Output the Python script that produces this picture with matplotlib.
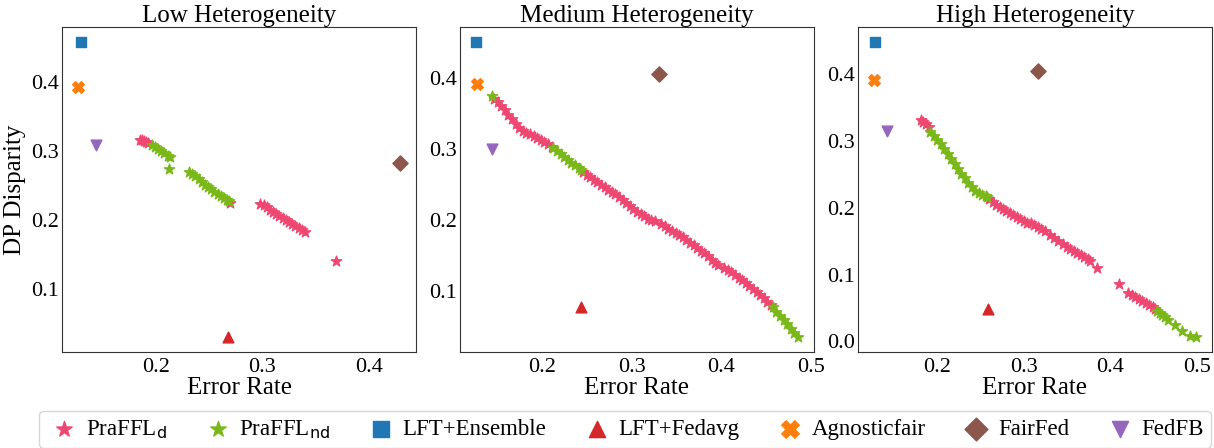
import matplotlib.pyplot as plt

plt.rcParams['font.family'] = ['Liberation Serif', 'DejaVu Sans']

titles = ["Low Heterogeneity", "Medium Heterogeneity", "High Heterogeneity"]
labels = [r"PraFFL$_\mathrm{d}$", r"PraFFL$_\mathrm{nd}$", "LFT+Ensemble",
          "LFT+Fedavg", "Agnosticfair", "FairFed", "FedFB"]

# PraFFL_d (pink stars) per panel
d_low_x = [0.185, 0.187, 0.189, 0.191, 0.193, 0.270,
           0.298, 0.301, 0.304, 0.307, 0.310, 0.313, 0.316, 0.319, 0.322, 0.325,
           0.328, 0.331, 0.334, 0.337, 0.340, 0.369]
d_low_y = [0.316, 0.315, 0.314, 0.313, 0.311, 0.225,
           0.223, 0.221, 0.218, 0.215, 0.212, 0.209, 0.206, 0.203, 0.200, 0.197,
           0.194, 0.191, 0.188, 0.185, 0.183, 0.140]

d_med_x = [0.147, 0.151, 0.155, 0.159, 0.163, 0.167, 0.171, 0.175, 0.179, 0.183,
           0.187, 0.191, 0.195, 0.199, 0.203, 0.207, 0.211,
           0.246, 0.250, 0.254, 0.258, 0.262, 0.266, 0.270, 0.274, 0.278, 0.282,
           0.286, 0.290, 0.294, 0.298, 0.302, 0.306, 0.310, 0.314, 0.318, 0.322, 0.326,
           0.333, 0.337, 0.341, 0.345, 0.349, 0.353, 0.357, 0.361, 0.365, 0.369,
           0.373, 0.377, 0.381, 0.385, 0.389, 0.393, 0.396,
           0.403, 0.407, 0.411, 0.415, 0.419, 0.423, 0.427, 0.431, 0.435, 0.439,
           0.443, 0.447, 0.451, 0.455]
d_med_y = [0.371, 0.366, 0.361, 0.355, 0.348, 0.342, 0.335, 0.329, 0.325, 0.323,
           0.321, 0.319, 0.316, 0.313, 0.310, 0.307, 0.303,
           0.267, 0.264, 0.261, 0.257, 0.253, 0.250, 0.246, 0.242, 0.239, 0.236,
           0.232, 0.228, 0.224, 0.220, 0.216, 0.212, 0.208, 0.205, 0.202, 0.200, 0.198,
           0.194, 0.191, 0.188, 0.185, 0.182, 0.179, 0.176, 0.172, 0.168, 0.165,
           0.161, 0.157, 0.153, 0.149, 0.144, 0.140, 0.137,
           0.133, 0.130, 0.127, 0.123, 0.119, 0.115, 0.111, 0.107, 0.103, 0.099,
           0.095, 0.090, 0.085, 0.080]

d_high_x = [0.181, 0.184, 0.187, 0.190,
            0.260, 0.264, 0.268, 0.272, 0.276, 0.280, 0.284, 0.288, 0.292, 0.296,
            0.300, 0.304, 0.308, 0.312, 0.316, 0.320, 0.325, 0.330, 0.335, 0.340,
            0.345, 0.350, 0.354, 0.358, 0.362, 0.366, 0.370, 0.374, 0.377,
            0.385, 0.410,
            0.421, 0.425, 0.429, 0.433, 0.437, 0.441, 0.445, 0.449, 0.452]
d_high_y = [0.331, 0.328, 0.325, 0.321,
            0.213, 0.209, 0.205, 0.202, 0.198, 0.195, 0.192, 0.189, 0.186, 0.183,
            0.180, 0.178, 0.177, 0.175, 0.172, 0.169, 0.165, 0.160, 0.155, 0.150,
            0.146, 0.141, 0.138, 0.136, 0.133, 0.130, 0.127, 0.124, 0.121,
            0.110, 0.086,
            0.073, 0.070, 0.067, 0.064, 0.061, 0.058, 0.055, 0.051, 0.048]

# PraFFL_nd (green stars) per panel
nd_low_x = [0.196, 0.199, 0.202, 0.205, 0.208, 0.211, 0.213, 0.212,
            0.231, 0.234, 0.237, 0.240, 0.243, 0.246, 0.249, 0.252, 0.255, 0.258,
            0.261, 0.264, 0.267, 0.269]
nd_low_y = [0.308, 0.306, 0.303, 0.300, 0.297, 0.293, 0.291, 0.274,
            0.270, 0.267, 0.263, 0.259, 0.255, 0.251, 0.248, 0.245, 0.241, 0.238,
            0.235, 0.232, 0.229, 0.227]

nd_med_x = [0.145, 0.213, 0.217, 0.221, 0.225, 0.229, 0.233, 0.237, 0.241, 0.244,
            0.457, 0.461, 0.465, 0.469, 0.473, 0.477, 0.481, 0.485]
nd_med_y = [0.374, 0.301, 0.297, 0.293, 0.289, 0.285, 0.281, 0.277, 0.273, 0.270,
            0.077, 0.071, 0.065, 0.059, 0.053, 0.047, 0.041, 0.035]

nd_high_x = [0.192, 0.196, 0.200, 0.204, 0.208, 0.212, 0.216, 0.220, 0.224, 0.228,
             0.232, 0.236, 0.240, 0.244, 0.248, 0.252, 0.256, 0.258,
             0.454, 0.457, 0.460, 0.463, 0.467, 0.475, 0.483, 0.492, 0.499]
nd_high_y = [0.314, 0.308, 0.301, 0.295, 0.288, 0.281, 0.273, 0.266, 0.258, 0.251,
             0.244, 0.237, 0.231, 0.226, 0.223, 0.220, 0.218, 0.216,
             0.046, 0.043, 0.040, 0.037, 0.032, 0.025, 0.016, 0.008, 0.006]

# baselines: (error rate, dp disparity) for low / medium / high
ensemble = [(0.130, 0.458), (0.127, 0.451), (0.128, 0.449)]
fedavg = [(0.268, 0.030), (0.244, 0.078), (0.259, 0.049)]
agnostic = [(0.127, 0.392), (0.128, 0.392), (0.127, 0.392)]
fairfed = [(0.429, 0.282), (0.331, 0.406), (0.317, 0.405)]
fedfb = [(0.144, 0.308), (0.145, 0.300), (0.142, 0.315)]

d_x = [d_low_x, d_med_x, d_high_x]
d_y = [d_low_y, d_med_y, d_high_y]
nd_x = [nd_low_x, nd_med_x, nd_high_x]
nd_y = [nd_low_y, nd_med_y, nd_high_y]

pink = "#EE4872"
green = "#7AB81A"

fig = plt.figure(figsize=(12.14, 4.48), dpi=100)
lefts = [62, 460, 858]
axes = [fig.add_axes([l / 1214, 96 / 448, 354 / 1214, 325 / 448]) for l in lefts]

for i, ax in enumerate(axes):
    ax.scatter(d_x[i], d_y[i], marker="*", s=60, color=pink, label=labels[0])
    ax.scatter(nd_x[i], nd_y[i], marker="*", s=60, color=green, label=labels[1])
    ax.scatter(*ensemble[i], marker="s", s=60, color="#1f77b4", label=labels[2])
    ax.scatter(*fedavg[i], marker="^", s=60, color="#d62728", label=labels[3])
    ax.scatter(*agnostic[i], marker="X", s=70, color="#ff7f0e", label=labels[4])
    ax.scatter(*fairfed[i], marker="D", s=60, color="#8c564b", label=labels[5])
    ax.scatter(*fedfb[i], marker="v", s=60, color="#9467bd", label=labels[6])
    ax.set_title(titles[i], fontsize=18, pad=2)
    ax.set_xlabel("Error Rate", fontsize=18, labelpad=0)
    ax.tick_params(length=0, labelsize=16)
    ax.tick_params(axis="y", pad=2)
    ax.tick_params(axis="x", pad=4)
    for sp in ax.spines.values():
        sp.set_color("#333333")

axes[0].set_ylabel("DP Disparity", fontsize=18)
axes[0].set_xticks([0.2, 0.3, 0.4])
axes[0].set_yticks([0.1, 0.2, 0.3, 0.4])
axes[1].set_xticks([0.2, 0.3, 0.4, 0.5])
axes[1].set_yticks([0.1, 0.2, 0.3, 0.4])
axes[2].set_xticks([0.2, 0.3, 0.4, 0.5])
axes[2].set_yticks([0.0, 0.1, 0.2, 0.3, 0.4])
for ax in axes:
    ax.xaxis.set_major_formatter(plt.FuncFormatter(lambda v, p: f"{v:g}"))
    ax.yaxis.set_major_formatter(plt.FuncFormatter(lambda v, p: f"{v:g}" if v else "0.0"))

handles, labs = axes[0].get_legend_handles_labels()
fig.legend(handles, labs, loc="center", bbox_to_anchor=(0.5148, 0.042), ncol=7,
           fontsize=16.5, markerscale=1.5, columnspacing=1.4, handletextpad=0.15,
           handlelength=1.6, borderpad=0.3, frameon=True, edgecolor="#cccccc")

fig.savefig("out.png", dpi=100)
